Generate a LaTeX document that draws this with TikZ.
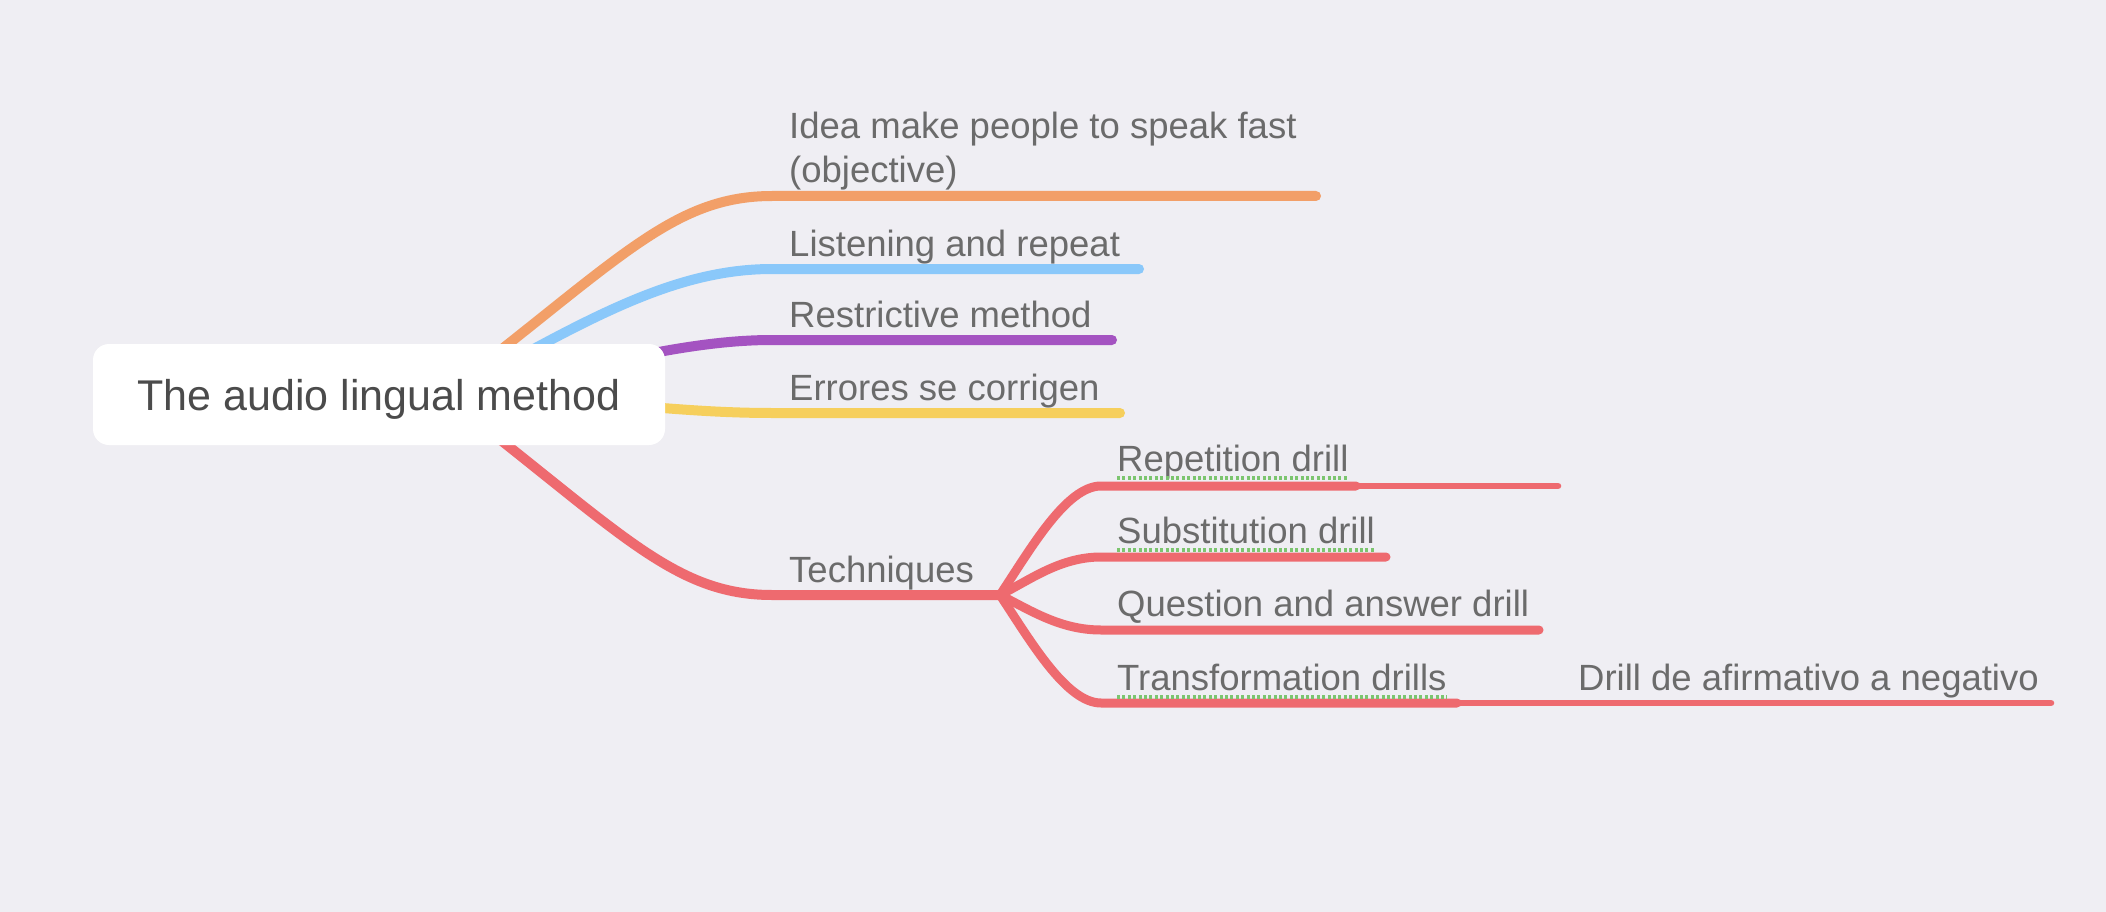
\documentclass[tikz,border=0pt]{standalone}
\usepackage{fontspec}
\setmainfont{Liberation Sans}
\pgfdeclarelayer{paper}
\pgfdeclarelayer{links}
\pgfsetlayers{paper,links,main}
\definecolor{bgc}{HTML}{EFEEF3}
\definecolor{corange}{HTML}{F29F68}
\definecolor{cblue}{HTML}{8AC8FA}
\definecolor{cpurple}{HTML}{A453C1}
\definecolor{cyellow}{HTML}{F6CF5C}
\definecolor{cred}{HTML}{EE6A6F}
\definecolor{txt}{HTML}{6B6B6B}
\definecolor{roottxt}{HTML}{4B4B4B}
\definecolor{dotg}{HTML}{7CC56F}
\tikzset{
  lvlone/.style={line width=10pt, line cap=round},
  lvltwo/.style={line width=9pt, line cap=round},
  lvlthree/.style={line width=6.5pt, line cap=round},
  lab/.style={anchor=base west, inner sep=0pt, text=txt, font=\fontsize{36.5}{44}\selectfont},
  dotline/.style={draw=dotg, line width=3.2pt, line cap=butt, dash pattern=on 3pt off 2.4pt},
  rootbox/.style={fill=white, rounded corners=16pt, minimum width=572pt, minimum height=101pt,
    inner sep=0pt, text=roottxt, font=\fontsize{43}{50}\selectfont, text height=31pt, text depth=0pt},
}
\begin{document}
\begin{tikzpicture}[x=1pt,y=-1pt]
\begin{pgfonlayer}{paper}
\fill[bgc] (0,0) rectangle (2106,912);
\end{pgfonlayer}
\useasboundingbox (0,0) rectangle (2106,912);

% root
\node[rootbox] (root) at (379,394.5) {The audio lingual method};

% hidden start points inside the root
\coordinate (ro) at (443,395);
\coordinate (rb) at (450,395);
\coordinate (rp) at (457,395);
\coordinate (ry) at (457,395);
\coordinate (rr) at (443,395);

% level-one line ends
\coordinate (idea-s) at (772,196);   \coordinate (idea-e) at (1316,196);
\coordinate (listen-s) at (772,269); \coordinate (listen-e) at (1139,269);
\coordinate (restr-s) at (772,340);  \coordinate (restr-e) at (1112,340);
\coordinate (err-s) at (772,413);    \coordinate (err-e) at (1120,413);
\coordinate (tech-s) at (772,595);   \coordinate (tech-e) at (1000,595);

% level-two line ends
\coordinate (rep-s) at (1101,486);   \coordinate (rep-e) at (1356,486);  \coordinate (rep-x) at (1558,486);
\coordinate (sub-s) at (1101,557);   \coordinate (sub-e) at (1386,557);
\coordinate (qa-s) at (1101,630);    \coordinate (qa-e) at (1539,630);
\coordinate (tr-s) at (1101,703);    \coordinate (tr-e) at (1457,703);   \coordinate (tr-x) at (2051,703);

% labels
\node[lab, align=left] (idea) at (789,183) {Idea make people to speak fast\\(objective)};
\node[lab] (listen) at (789,256) {Listening and repeat};
\node[lab] (restr) at (789,327) {Restrictive method};
\node[lab] (err) at (789,400) {Errores se corrigen};
\node[lab] (tech) at (789,582) {Techniques};
\node[lab] (rep) at (1117,471) {Repetition drill};
\node[lab] (sub) at (1117,543) {Substitution drill};
\node[lab] (qa) at (1117,616) {Question and answer drill};
\node[lab] (tr) at (1117,690) {Transformation drills};
\node[lab] (neg) at (1578,690) {Drill de afirmativo a negativo};

% dotted underlines
\draw[dotline] ([yshift=-7pt]rep.base west) -- ([yshift=-7pt]rep.base east);
\draw[dotline] ([yshift=-7pt]sub.base west) -- ([yshift=-7pt]sub.base east);
\draw[dotline] ([yshift=-7pt]tr.base west) -- ([yshift=-7pt]tr.base east);

\begin{pgfonlayer}{links}
\draw[lvlone, corange] (ro) .. controls +(175,-134) and +(-100,0) .. (idea-s) -- (idea-e);
\draw[lvlone, cblue] (rb) .. controls +(134,-74) and +(-100,0) .. (listen-s) -- (listen-e);
\draw[lvlone, cpurple] (rp) .. controls +(107,-19) and +(-100,0) .. (restr-s) -- (restr-e);
\draw[lvlone, cyellow] (ry) .. controls +(134,3) and +(-100,0) .. (err-s) -- (err-e);
\draw[lvlone, cred] (rr) .. controls +(175,134) and +(-100,0) .. (tech-s) -- (tech-e);

\draw[lvltwo, cred] (tech-e) .. controls +(30,-45) and +(-35,0) .. (rep-s) -- (rep-e);
\draw[lvltwo, cred] (tech-e) .. controls +(30,-15) and +(-41,0) .. (sub-s) -- (sub-e);
\draw[lvltwo, cred] (tech-e) .. controls +(30,15) and +(-41,0) .. (qa-s) -- (qa-e);
\draw[lvltwo, cred] (tech-e) .. controls +(30,45) and +(-35,0) .. (tr-s) -- (tr-e);

\draw[lvlthree, cred] (rep-e) -- (rep-x);
\draw[lvlthree, cred] (tr-e) -- (tr-x);
\end{pgfonlayer}
\end{tikzpicture}
\end{document}
